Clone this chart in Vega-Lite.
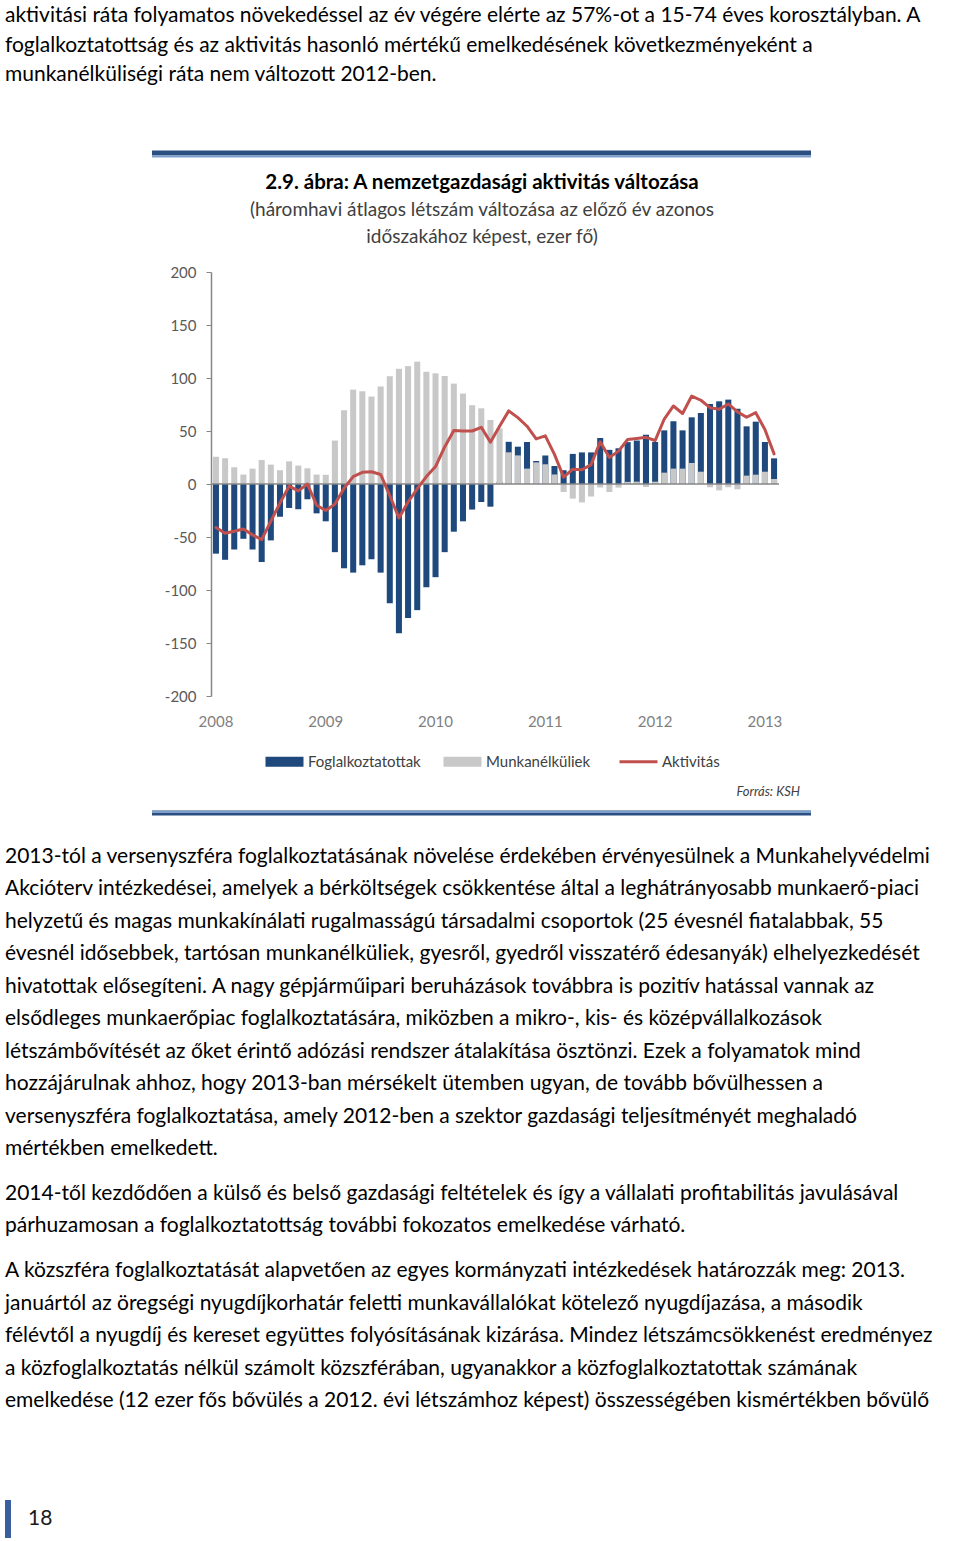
{
  "$schema": "https://vega.github.io/schema/vega-lite/v6.json",
  "width": 568,
  "height": 424,
  "autosize": {"type": "none"},
  "padding": {"left": 211, "top": 272, "right": 181, "bottom": 845},
  "background": "#ffffff",
  "config": {"view": {"stroke": null}, "font": "Lato", "text": {"font": "Lato"}},
  "resolve": {"scale": {"x": "independent", "y": "independent"}},
  "layer": [
    {
      "data": {"values": [
        {"month": "2008-01", "employed": -65.7, "unemployed": 25.7, "active": -41},
        {"month": "2008-02", "employed": -71.5, "unemployed": 24.3, "active": -46.5},
        {"month": "2008-03", "employed": -61.8, "unemployed": 15.8, "active": -44.5},
        {"month": "2008-04", "employed": -51.7, "unemployed": 8.9, "active": -42.5},
        {"month": "2008-05", "employed": -61.8, "unemployed": 14.5, "active": -48},
        {"month": "2008-06", "employed": -73.6, "unemployed": 22.6, "active": -52.5},
        {"month": "2008-07", "employed": -53.2, "unemployed": 18.3, "active": -35},
        {"month": "2008-08", "employed": -30.9, "unemployed": 13, "active": -18},
        {"month": "2008-09", "employed": -22.6, "unemployed": 21.4, "active": -2},
        {"month": "2008-10", "employed": -23.8, "unemployed": 17.4, "active": -6.5},
        {"month": "2008-11", "employed": -14.4, "unemployed": 14.8, "active": 0},
        {"month": "2008-12", "employed": -27.7, "unemployed": 8.9, "active": -20},
        {"month": "2009-01", "employed": -35.2, "unemployed": 8.7, "active": -25},
        {"month": "2009-02", "employed": -64.3, "unemployed": 41, "active": -19},
        {"month": "2009-03", "employed": -79.5, "unemployed": 69.6, "active": -4},
        {"month": "2009-04", "employed": -83.6, "unemployed": 89, "active": 7},
        {"month": "2009-05", "employed": -76.7, "unemployed": 87.5, "active": 11},
        {"month": "2009-06", "employed": -71, "unemployed": 82.5, "active": 11.5},
        {"month": "2009-07", "employed": -83.6, "unemployed": 92, "active": 9},
        {"month": "2009-08", "employed": -112.5, "unemployed": 101.7, "active": -11},
        {"month": "2009-09", "employed": -140.8, "unemployed": 108.7, "active": -32},
        {"month": "2009-10", "employed": -126.4, "unemployed": 111.2, "active": -17},
        {"month": "2009-11", "employed": -119, "unemployed": 115.4, "active": -4.5},
        {"month": "2009-12", "employed": -97.4, "unemployed": 105.9, "active": 7},
        {"month": "2010-01", "employed": -87.9, "unemployed": 104.4, "active": 16.5},
        {"month": "2010-02", "employed": -64.3, "unemployed": 101.9, "active": 35},
        {"month": "2010-03", "employed": -45, "unemployed": 94.7, "active": 50.5},
        {"month": "2010-04", "employed": -35.2, "unemployed": 85.3, "active": 50},
        {"month": "2010-05", "employed": -24.1, "unemployed": 74.3, "active": 50},
        {"month": "2010-06", "employed": -17, "unemployed": 71.4, "active": 53.5},
        {"month": "2010-07", "employed": -21.4, "unemployed": 60.4, "active": 39.5},
        {"month": "2010-08", "employed": 2, "unemployed": 52.4, "active": 54.5},
        {"month": "2010-09", "employed": 39.8, "unemployed": 29.9, "active": 69},
        {"month": "2010-10", "employed": 35.2, "unemployed": 27, "active": 62.6},
        {"month": "2010-11", "employed": 39.6, "unemployed": 14.5, "active": 54.5},
        {"month": "2010-12", "employed": 21.7, "unemployed": 20.4, "active": 42.5},
        {"month": "2011-01", "employed": 26.9, "unemployed": 18.6, "active": 45.4},
        {"month": "2011-02", "employed": 17, "unemployed": 9, "active": 28},
        {"month": "2011-03", "employed": 13, "unemployed": -7.5, "active": 6.5},
        {"month": "2011-04", "employed": 28.4, "unemployed": -13.8, "active": 14},
        {"month": "2011-05", "employed": 29.8, "unemployed": -17.4, "active": 13.5},
        {"month": "2011-06", "employed": 29.8, "unemployed": -11.8, "active": 18.3},
        {"month": "2011-07", "employed": 43.4, "unemployed": -3.3, "active": 39.8},
        {"month": "2011-08", "employed": 32.2, "unemployed": -7.5, "active": 25},
        {"month": "2011-09", "employed": 33.7, "unemployed": -3.4, "active": 31},
        {"month": "2011-10", "employed": 39.5, "unemployed": 2, "active": 42},
        {"month": "2011-11", "employed": 41, "unemployed": 2.2, "active": 43},
        {"month": "2011-12", "employed": 46.5, "unemployed": -2.8, "active": 44},
        {"month": "2012-01", "employed": 39.6, "unemployed": 2.2, "active": 41},
        {"month": "2012-02", "employed": 50.6, "unemployed": 10.7, "active": 61.3},
        {"month": "2012-03", "employed": 59.2, "unemployed": 14.5, "active": 73.6},
        {"month": "2012-04", "employed": 50.6, "unemployed": 14.5, "active": 66.5},
        {"month": "2012-05", "employed": 62.9, "unemployed": 19.8, "active": 83},
        {"month": "2012-06", "employed": 67, "unemployed": 11.6, "active": 79},
        {"month": "2012-07", "employed": 75.5, "unemployed": -3.1, "active": 72},
        {"month": "2012-08", "employed": 78, "unemployed": -6, "active": 70.5},
        {"month": "2012-09", "employed": 79.6, "unemployed": -3.1, "active": 75.5},
        {"month": "2012-10", "employed": 71, "unemployed": -5, "active": 68},
        {"month": "2012-11", "employed": 54.4, "unemployed": 7.9, "active": 63},
        {"month": "2012-12", "employed": 58.8, "unemployed": 8.8, "active": 67.3},
        {"month": "2013-01", "employed": 39.6, "unemployed": 11.6, "active": 51.4},
        {"month": "2013-02", "employed": 24.2, "unemployed": 4.7, "active": 28.4}
      ]},
      "layer": [
        {
          "mark": {"type": "bar"},
          "encoding": {
            "x": {
              "field": "month", "type": "ordinal", "title": null,
              "scale": {"paddingInner": 0.34, "paddingOuter": 0.21, "round": false},
              "axis": {
                "values": ["2008-01", "2009-01", "2010-01", "2011-01", "2012-01", "2013-01"],
                "labelExpr": "substring(datum.value, 0, 4)",
                "labelAngle": 0, "ticks": false, "domain": false, "grid": false,
                "labelPadding": 18, "labelFont": "Lato", "labelFontSize": 15, "labelColor": "#7f7f7f"
              }
            },
            "y": {
              "field": "employed", "type": "quantitative", "title": null, "stack": null,
              "scale": {"domain": [-200, 200], "nice": false},
              "axis": {
                "values": [-200, -150, -100, -50, 0, 50, 100, 150, 200],
                "labelExpr": "'' + datum.value",
                "grid": false, "tickSize": 5, "tickColor": "#868686", "domainColor": "#868686",
                "domainWidth": 1.5, "labelPadding": 10, "labelFont": "Lato", "labelFontSize": 15,
                "labelColor": "#595959"
              }
            },
            "color": {
              "datum": "Foglalkoztatottak",
              "scale": {"domain": ["Foglalkoztatottak", "Munkanélküliek", "Aktivitás"], "range": ["#1f497d", "#c8c8c8", "#c0504d"]},
              "legend": {
                "orient": "none", "legendX": 66, "legendY": 482, "direction": "horizontal",
                "title": null, "padding": 0, "symbolSize": 1444, "labelFont": "Lato",
                "labelFontSize": 15, "labelColor": "#404040", "labelOffset": 16, "columnPadding": 22,
                "encode": {
                  "symbols": {
                    "update": {
                      "shape": {"signal": "datum.value === 'Aktivitás' ? 'M-1,0H1' : 'M-1,-0.26H1V0.26H-1Z'"},
                      "fill": {"signal": "datum.value === 'Aktivitás' ? 'transparent' : (datum.value === 'Foglalkoztatottak' ? '#1f497d' : '#c8c8c8')"},
                      "stroke": {"signal": "datum.value === 'Aktivitás' ? '#c0504d' : 'transparent'"},
                      "strokeWidth": {"signal": "datum.value === 'Aktivitás' ? 3 : 0"},
                      "opacity": {"value": 1}
                    }
                  }
                }
              }
            }
          }
        },
        {
          "mark": {"type": "bar"},
          "encoding": {
            "x": {"field": "month", "type": "ordinal", "title": null},
            "y": {"field": "unemployed", "type": "quantitative", "title": null, "stack": null},
            "color": {"datum": "Munkanélküliek"}
          }
        },
        {
          "data": {"values": [{"axis": "zero"}]},
          "mark": {"type": "rule", "color": "#868686", "strokeWidth": 1.5},
          "encoding": {"y": {"datum": 0}}
        },
        {
          "mark": {"type": "line", "strokeWidth": 3, "strokeJoin": "round", "strokeCap": "round"},
          "encoding": {
            "x": {"field": "month", "type": "ordinal", "title": null},
            "y": {"field": "active", "type": "quantitative", "title": null},
            "color": {"datum": "Aktivitás"}
          }
        }
      ]
    },
    {
      "data": {"values": [
        {"line": 0, "text": "aktivitási ráta folyamatos növekedéssel az év végére elérte az 57%-ot a 15-74 éves korosztályban. A"},
        {"line": 1, "text": "foglalkoztatottság és az aktivitás hasonló mértékű emelkedésének következményeként a"},
        {"line": 2, "text": "munkanélküliségi ráta nem változott 2012-ben."}
      ]},
      "mark": {"type": "text", "align": "left", "baseline": "middle", "fontSize": 21, "color": "#000000"},
      "encoding": {
        "x": {"datum": 0, "type": "quantitative", "scale": {"domain": [0, 1], "range": [-206, 0], "nice": false, "zero": false}, "axis": null},
        "y": {"field": "line", "type": "quantitative", "scale": {"domain": [0, 2], "range": [-256, -197], "nice": false, "zero": false}, "axis": null},
        "text": {"field": "text"}
      }
    },
    {
      "data": {"values": [{"line": 0, "text": "2.9. ábra: A nemzetgazdasági aktivitás változása"}]},
      "mark": {"type": "text", "align": "center", "baseline": "middle", "fontSize": 20.5, "fontWeight": "bold", "color": "#000000"},
      "encoding": {
        "x": {"datum": 0, "type": "quantitative", "scale": {"domain": [0, 1], "range": [271, 300], "nice": false, "zero": false}, "axis": null},
        "y": {"field": "line", "type": "quantitative", "scale": {"domain": [0, 1], "range": [-89, 0], "nice": false, "zero": false}, "axis": null},
        "text": {"field": "text"}
      }
    },
    {
      "data": {"values": [
        {"line": 0, "text": "(háromhavi átlagos létszám változása az előző év azonos"},
        {"line": 1, "text": "időszakához képest, ezer fő)"}
      ]},
      "mark": {"type": "text", "align": "center", "baseline": "middle", "fontSize": 19, "color": "#404040"},
      "encoding": {
        "x": {"datum": 0, "type": "quantitative", "scale": {"domain": [0, 1], "range": [271, 300], "nice": false, "zero": false}, "axis": null},
        "y": {"field": "line", "type": "quantitative", "scale": {"domain": [0, 1], "range": [-62, -35], "nice": false, "zero": false}, "axis": null},
        "text": {"field": "text"}
      }
    },
    {
      "data": {"values": [{"line": 0, "text": "Forrás: KSH"}]},
      "mark": {"type": "text", "align": "right", "baseline": "middle", "fontSize": 13, "fontStyle": "italic", "color": "#404040"},
      "encoding": {
        "x": {"datum": 0, "type": "quantitative", "scale": {"domain": [0, 1], "range": [589, 600], "nice": false, "zero": false}, "axis": null},
        "y": {"field": "line", "type": "quantitative", "scale": {"domain": [0, 1], "range": [520, 540], "nice": false, "zero": false}, "axis": null},
        "text": {"field": "text"}
      }
    },
    {
      "data": {"values": [{"edge": "top"}, {"edge": "bottom"}]},
      "mark": {"type": "rule", "color": "#2a4f80", "strokeWidth": 5},
      "encoding": {
        "x": {"datum": 0, "type": "quantitative", "scale": {"domain": [0, 1], "range": [-59, 600], "nice": false, "zero": false}, "axis": null},
        "x2": {"datum": 1},
        "y": {"field": "edge", "type": "nominal", "scale": {"type": "point", "domain": ["top", "bottom"], "range": [-119, 541], "padding": 0}, "axis": null}
      }
    },
    {
      "data": {"values": [{"edge": "top"}, {"edge": "bottom"}]},
      "mark": {"type": "rule", "color": "#7d9fcc", "strokeWidth": 2},
      "encoding": {
        "x": {"datum": 0, "type": "quantitative", "scale": {"domain": [0, 1], "range": [-59, 600], "nice": false, "zero": false}, "axis": null},
        "x2": {"datum": 1},
        "y": {"field": "edge", "type": "nominal", "scale": {"type": "point", "domain": ["top", "bottom"], "range": [-115.5, 540], "padding": 0}, "axis": null}
      }
    },
    {
      "data": {"values": [
        {"line": 0, "text": "2013-tól a versenyszféra foglalkoztatásának növelése érdekében érvényesülnek a Munkahelyvédelmi"},
        {"line": 1, "text": "Akcióterv intézkedései, amelyek a bérköltségek csökkentése által a leghátrányosabb munkaerő-piaci"},
        {"line": 2, "text": "helyzetű és magas munkakínálati rugalmasságú társadalmi csoportok (25 évesnél fiatalabbak, 55"},
        {"line": 3, "text": "évesnél idősebbek, tartósan munkanélküliek, gyesről, gyedről visszatérő édesanyák) elhelyezkedését"},
        {"line": 4, "text": "hivatottak elősegíteni. A nagy gépjárműipari beruházások továbbra is pozitív hatással vannak az"},
        {"line": 5, "text": "elsődleges munkaerőpiac foglalkoztatására, miközben a mikro-, kis- és középvállalkozások"},
        {"line": 6, "text": "létszámbővítését az őket érintő adózási rendszer átalakítása ösztönzi. Ezek a folyamatok mind"},
        {"line": 7, "text": "hozzájárulnak ahhoz, hogy 2013-ban mérsékelt ütemben ugyan, de tovább bővülhessen a"},
        {"line": 8, "text": "versenyszféra foglalkoztatása, amely 2012-ben a szektor gazdasági teljesítményét meghaladó"},
        {"line": 9, "text": "mértékben emelkedett."}
      ]},
      "mark": {"type": "text", "align": "left", "baseline": "middle", "fontSize": 21, "color": "#000000"},
      "encoding": {
        "x": {"datum": 0, "type": "quantitative", "scale": {"domain": [0, 1], "range": [-206, 0], "nice": false, "zero": false}, "axis": null},
        "y": {"field": "line", "type": "quantitative", "scale": {"domain": [0, 9], "range": [585, 877], "nice": false, "zero": false}, "axis": null},
        "text": {"field": "text"}
      }
    },
    {
      "data": {"values": [
        {"line": 0, "text": "2014-től kezdődően a külső és belső gazdasági feltételek és így a vállalati profitabilitás javulásával"},
        {"line": 1, "text": "párhuzamosan a foglalkoztatottság további fokozatos emelkedése várható."}
      ]},
      "mark": {"type": "text", "align": "left", "baseline": "middle", "fontSize": 21, "color": "#000000"},
      "encoding": {
        "x": {"datum": 0, "type": "quantitative", "scale": {"domain": [0, 1], "range": [-206, 0], "nice": false, "zero": false}, "axis": null},
        "y": {"field": "line", "type": "quantitative", "scale": {"domain": [0, 1], "range": [922, 954], "nice": false, "zero": false}, "axis": null},
        "text": {"field": "text"}
      }
    },
    {
      "data": {"values": [
        {"line": 0, "text": "A közszféra foglalkoztatását alapvetően az egyes kormányzati intézkedések határozzák meg: 2013."},
        {"line": 1, "text": "januártól az öregségi nyugdíjkorhatár feletti munkavállalókat kötelező nyugdíjazása, a második"},
        {"line": 2, "text": "félévtől a nyugdíj és kereset együttes folyósításának kizárása. Mindez létszámcsökkenést eredményez"},
        {"line": 3, "text": "a közfoglalkoztatás nélkül számolt közszférában, ugyanakkor a közfoglalkoztatottak számának"},
        {"line": 4, "text": "emelkedése (12 ezer fős bővülés a 2012. évi létszámhoz képest) összességében kismértékben bővülő"}
      ]},
      "mark": {"type": "text", "align": "left", "baseline": "middle", "fontSize": 21, "color": "#000000"},
      "encoding": {
        "x": {"datum": 0, "type": "quantitative", "scale": {"domain": [0, 1], "range": [-206, 0], "nice": false, "zero": false}, "axis": null},
        "y": {"field": "line", "type": "quantitative", "scale": {"domain": [0, 4], "range": [999, 1129], "nice": false, "zero": false}, "axis": null},
        "text": {"field": "text"}
      }
    },
    {
      "data": {"values": [{"line": 0, "text": "18"}]},
      "mark": {"type": "text", "align": "left", "baseline": "middle", "fontSize": 21, "color": "#1a1a1a"},
      "encoding": {
        "x": {"datum": 0, "type": "quantitative", "scale": {"domain": [0, 1], "range": [-183, 0], "nice": false, "zero": false}, "axis": null},
        "y": {"field": "line", "type": "quantitative", "scale": {"domain": [0, 1], "range": [1247, 1300], "nice": false, "zero": false}, "axis": null},
        "text": {"field": "text"}
      }
    },
    {
      "data": {"values": [{"page": "18"}]},
      "mark": {"type": "rule", "color": "#3a5f9e", "strokeWidth": 6},
      "encoding": {
        "x": {"datum": 0, "type": "quantitative", "scale": {"domain": [0, 1], "range": [-203, 0], "nice": false, "zero": false}, "axis": null},
        "y": {"datum": 0, "type": "quantitative", "scale": {"domain": [0, 1], "range": [1228, 1266], "nice": false, "zero": false}, "axis": null},
        "y2": {"datum": 1}
      }
    }
  ]
}
